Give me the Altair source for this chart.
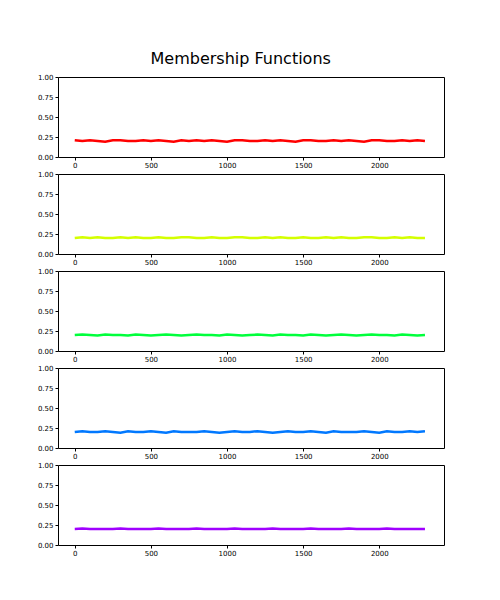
import altair as alt
import pandas as pd

x_vals = list(range(0, 2301, 50))
red = [0.21, 0.20, 0.21, 0.20, 0.19, 0.21, 0.21, 0.20, 0.20, 0.21, 0.20, 0.21, 0.20, 0.19, 0.21, 0.20,
       0.21, 0.20, 0.21, 0.20, 0.19, 0.21, 0.21, 0.20, 0.20, 0.21, 0.20, 0.21, 0.20, 0.19, 0.21, 0.21,
       0.20, 0.20, 0.21, 0.20, 0.21, 0.20, 0.19, 0.21, 0.21, 0.20, 0.20, 0.21, 0.20, 0.21, 0.20]
yellow = [0.20, 0.21, 0.20, 0.21, 0.20, 0.20, 0.21, 0.20, 0.21, 0.20, 0.20, 0.21, 0.20, 0.20, 0.21, 0.21,
          0.20, 0.20, 0.21, 0.20, 0.20, 0.21, 0.21, 0.20, 0.20, 0.21, 0.20, 0.21, 0.20, 0.20, 0.21, 0.20,
          0.20, 0.21, 0.20, 0.21, 0.20, 0.20, 0.21, 0.21, 0.20, 0.20, 0.21, 0.20, 0.21, 0.20, 0.20]
green = [0.20, 0.205, 0.20, 0.195, 0.205, 0.20, 0.20, 0.195, 0.205, 0.20, 0.195, 0.20, 0.205, 0.20, 0.195, 0.20,
         0.205, 0.20, 0.20, 0.195, 0.205, 0.20, 0.195, 0.20, 0.205, 0.20, 0.195, 0.205, 0.20, 0.20, 0.195, 0.205,
         0.20, 0.195, 0.20, 0.205, 0.20, 0.195, 0.20, 0.205, 0.20, 0.20, 0.195, 0.205, 0.20, 0.195, 0.20]
blue = [0.20, 0.21, 0.20, 0.20, 0.21, 0.20, 0.19, 0.21, 0.20, 0.20, 0.21, 0.20, 0.19, 0.21, 0.20, 0.20,
        0.20, 0.21, 0.20, 0.19, 0.20, 0.21, 0.20, 0.20, 0.21, 0.20, 0.19, 0.20, 0.21, 0.20, 0.20, 0.21,
        0.20, 0.19, 0.21, 0.20, 0.20, 0.20, 0.21, 0.20, 0.19, 0.21, 0.20, 0.20, 0.21, 0.20, 0.21]
purple = [0.20, 0.205, 0.20, 0.20, 0.20, 0.20, 0.205, 0.20, 0.20, 0.20, 0.20, 0.205, 0.20, 0.20, 0.20, 0.20,
          0.205, 0.20, 0.20, 0.20, 0.20, 0.205, 0.20, 0.20, 0.20, 0.20, 0.205, 0.20, 0.20, 0.20, 0.20, 0.205,
          0.20, 0.20, 0.20, 0.20, 0.205, 0.20, 0.20, 0.20, 0.20, 0.205, 0.20, 0.20, 0.20, 0.20, 0.20]

series = [(red, "#ff0000"), (yellow, "#d4ff00"), (green, "#00ff3c"), (blue, "#0078ff"), (purple, "#a000ff")]

panels = []
for vals, color in series:
    df = pd.DataFrame({"x": x_vals, "y": vals})
    panels.append(
        alt.Chart(df)
        .mark_line(color=color, strokeWidth=2.5)
        .encode(
            x=alt.X("x:Q", title=None, scale=alt.Scale(domain=[-110, 2425], nice=False, zero=False),
                    axis=alt.Axis(values=[0, 500, 1000, 1500, 2000], format="d", grid=False, labelFontSize=7,
                                  tickSize=3, labelPadding=1, domain=False)),
            y=alt.Y("y:Q", title=None, scale=alt.Scale(domain=[0, 1]),
                    axis=alt.Axis(values=[0, 0.25, 0.5, 0.75, 1.0], format=".2f", grid=False,
                                  labelFontSize=7, tickSize=3, labelPadding=2, domain=False)),
        )
        .properties(width=386, height=80)
    )

chart = (
    alt.vconcat(*panels, spacing=0)
    .properties(title=alt.Title("Membership Functions", fontSize=16, fontWeight="normal",
                                font="DejaVu Sans", offset=6, anchor="middle"),
                padding={"left": 28, "top": 42, "right": 10, "bottom": 10})
    .configure_view(stroke="black", strokeWidth=1)
    .configure_axis(labelFont="DejaVu Sans", labelColor="black", tickColor="black")
)

chart.save("out.html", embed_options={"renderer": "svg", "actions": False})
